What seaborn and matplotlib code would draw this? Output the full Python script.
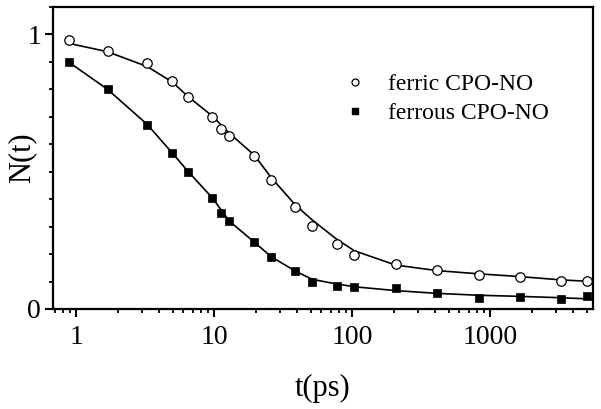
import matplotlib
matplotlib.use("Agg")
import matplotlib.pyplot as plt
import matplotlib.ticker as mticker
from matplotlib.lines import Line2D
import seaborn as sns
import pandas as pd

# ---- data ----
t_data = [0.895, 1.69, 3.28, 4.99, 6.5, 9.7, 11.2, 12.9, 19.5, 26, 38.8,
          51.5, 77.4, 104, 207, 411, 832, 1650, 3270, 5070]
ferric = [0.98, 0.941, 0.895, 0.829, 0.771, 0.698, 0.655, 0.630, 0.558, 0.471, 0.373,
          0.302, 0.237, 0.197, 0.163, 0.142, 0.125, 0.118, 0.102, 0.102]
ferrous = [0.90, 0.80, 0.671, 0.567, 0.499, 0.404, 0.351, 0.319, 0.244, 0.188, 0.137,
           0.099, 0.084, 0.079, 0.075, 0.057, 0.041, 0.045, 0.036, 0.047]

t_fit = [0.88, 1.69, 3.28, 5.0, 6.5, 9.7, 12.9, 19.5, 26, 38.8,
         51.5, 77.4, 104, 207, 411, 832, 1650, 3270, 5570]
ferric_fit = [0.968, 0.937, 0.883, 0.826, 0.773, 0.703, 0.640, 0.561, 0.478, 0.379,
              0.324, 0.254, 0.212, 0.160, 0.140, 0.128, 0.118, 0.106, 0.100]
ferrous_fit = [0.90, 0.80, 0.672, 0.567, 0.500, 0.405, 0.320, 0.244, 0.190, 0.138,
               0.108, 0.091, 0.081, 0.067, 0.057, 0.050, 0.046, 0.041, 0.036]

labels = ["ferric CPO-NO", "ferrous CPO-NO"]
x_ticks = [1, 10, 100, 1000]
x_ticklabels = ["1", "10", "100", "1000"]
y_ticks = [0, 1]
y_ticklabels = ["0", "1"]

df_pts = pd.DataFrame({
    "t": t_data * 2,
    "N": ferric + ferrous,
    "sample": [labels[0]] * len(t_data) + [labels[1]] * len(t_data),
})
df_fit = pd.DataFrame({
    "t": t_fit * 2,
    "N": ferric_fit + ferrous_fit,
    "sample": [labels[0]] * len(t_fit) + [labels[1]] * len(t_fit),
})

sns.set_theme(style="ticks")
plt.rcParams["font.family"] = ["Liberation Serif", "DejaVu Serif"]
plt.rcParams["text.color"] = "black"
plt.rcParams["axes.labelcolor"] = "black"

fig = plt.figure(figsize=(6.01, 4.09), dpi=100)
ax = fig.add_axes([53 / 601, 1 - 309 / 409, 540 / 601, 302 / 409])

sns.lineplot(data=df_fit, x="t", y="N", units="sample", estimator=None,
             color="black", lw=1.2, ax=ax, legend=False, sort=False)

d1 = df_pts[df_pts["sample"] == labels[0]]
d2 = df_pts[df_pts["sample"] == labels[1]]
sns.scatterplot(data=d1, x="t", y="N", marker="o", s=46, facecolor="white",
                edgecolor="black", linewidth=0.9, ax=ax, zorder=3, legend=False)
sns.scatterplot(data=d2, x="t", y="N", marker="s", s=38, color="black",
                edgecolor="black", linewidth=0.5, ax=ax, zorder=3, legend=False)

ax.set_xscale("log")
ax.set_xlim(0.68, 5570)
ax.set_ylim(0, 1.1)
ax.set_xticks(x_ticks)
ax.set_xticklabels(x_ticklabels)
ax.xaxis.set_minor_locator(mticker.LogLocator(base=10, subs=range(2, 10), numticks=20))
ax.xaxis.set_minor_formatter(mticker.NullFormatter())
ax.set_yticks(y_ticks)
ax.set_yticklabels(y_ticklabels)
ax.yaxis.set_minor_locator(mticker.MultipleLocator(0.1))

for s in ax.spines.values():
    s.set_visible(True)
    s.set_linewidth(1.6)
    s.set_color("black")
ax.tick_params(which="major", direction="out", length=5.5, width=1.5,
               labelsize=20, colors="black", pad=3)
ax.tick_params(which="minor", direction="out", length=3, width=1.3, colors="black")
ax.tick_params(axis="x", which="major", pad=6)

ax.set_xlabel("t(ps)", fontsize=22, labelpad=17, color="black")
ax.set_ylabel("N(t)", fontsize=22, color="black")
ax.yaxis.set_label_coords(-17 / 540, 0.5)

handles = [
    Line2D([], [], ls="none", marker="o", markersize=5, markerfacecolor="white",
           markeredgecolor="black", markeredgewidth=0.9),
    Line2D([], [], ls="none", marker="s", markersize=5, color="black"),
]
ax.legend(handles, labels, loc="center left", bbox_to_anchor=(343 / 601, 1 - 99 / 409),
          bbox_transform=fig.transFigure, frameon=False, fontsize=17,
          handlelength=1.0, handletextpad=0.9, labelspacing=0.3, borderpad=0,
          borderaxespad=0, labelcolor="black")

fig.savefig("out.png", dpi=100)
